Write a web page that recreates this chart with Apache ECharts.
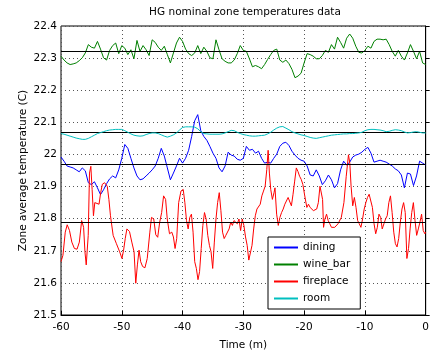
<!DOCTYPE html>
<html>
<head>
<meta charset="utf-8">
<script src="https://cdn.jsdelivr.net/npm/echarts@6/dist/echarts.min.js"></script>
<style>
  html, body { margin: 0; padding: 0; background: #fff; }
  #chart { width: 432px; height: 356px; }
</style>
</head>
<body>
<div id="chart"></div>
<script>
// Sample times (minutes) shared by dining, wine_bar and room
const sampleTimes = [
  -60, -59.5, -59, -58.5, -58, -57.5, -57, -56.5, -56, -55.5,
  -55, -54.5, -54, -53.5, -53, -52.5, -52, -51.5, -51, -50.5,
  -50, -49.5, -49, -48.5, -48, -47.5, -47, -46.5, -46, -45.5,
  -45, -44.5, -44, -43.5, -43, -42.5, -42, -41.5, -41, -40.5,
  -40, -39.5, -39, -38.5, -38, -37.5, -37, -36.5, -36, -35.5,
  -35, -34.5, -34, -33.5, -33, -32.5, -32, -31.5, -31, -30.5,
  -30, -29.5, -29, -28.5, -28, -27.5, -27, -26.5, -26, -25.5,
  -25, -24.5, -24, -23.5, -23, -22.5, -22, -21.5, -21, -20.5,
  -20, -19.5, -19, -18.5, -18, -17.5, -17, -16.5, -16, -15.5,
  -15, -14.5, -14, -13.5, -13, -12.5, -12, -11.5, -11, -10.5,
  -10, -9.5, -9, -8.5, -8, -7.5, -7, -6.5, -6, -5.5,
  -5, -4.5, -4, -3.5, -3, -2.5, -2, -1.5, -1, -0.5,
  0
];

const diningTemps = [
  21.992, 21.979, 21.964, 21.961, 21.958, 21.952, 21.946, 21.958, 21.949, 21.912,
  21.906, 21.915, 21.896, 21.875, 21.890, 21.909, 21.924, 21.933, 21.927, 21.952,
  21.988, 22.031, 22.019, 21.988, 21.958, 21.933, 21.921, 21.924, 21.933, 21.942,
  21.952, 21.964, 21.988, 22.019, 21.995, 21.958, 21.921, 21.942, 21.964, 21.988,
  21.973, 21.988, 22.013, 22.056, 22.105, 22.124, 22.074, 22.056, 22.044, 22.025,
  22.004, 21.988, 21.958, 21.946, 21.964, 22.007, 21.998, 21.995, 21.985, 21.982,
  21.988, 22.025, 22.013, 22.016, 22.004, 22.010, 21.988, 21.973, 21.976, 21.973,
  21.988, 22.001, 22.025, 22.035, 22.038, 22.028, 22.010, 21.998, 21.988, 21.982,
  21.979, 21.964, 21.936, 21.933, 21.952, 21.933, 21.906, 21.918, 21.936, 21.921,
  21.896, 21.909, 21.952, 21.979, 21.967, 21.976, 21.992, 21.998, 22.001, 22.007,
  22.016, 22.022, 22.004, 21.976, 21.979, 21.982, 21.979, 21.976, 21.970, 21.964,
  21.955, 21.949, 21.936, 21.896, 21.942, 21.939, 21.903, 21.933, 21.979, 21.973,
  21.967
];

const wineBarTemps = [
  22.306, 22.294, 22.285, 22.280, 22.282, 22.285, 22.292, 22.301, 22.316, 22.342,
  22.334, 22.331, 22.352, 22.328, 22.301, 22.294, 22.324, 22.339, 22.347, 22.314,
  22.339, 22.331, 22.311, 22.326, 22.298, 22.355, 22.321, 22.339, 22.326, 22.308,
  22.357, 22.349, 22.334, 22.324, 22.337, 22.311, 22.285, 22.316, 22.347, 22.365,
  22.352, 22.328, 22.314, 22.308, 22.316, 22.339, 22.314, 22.334, 22.321, 22.301,
  22.298, 22.357, 22.326, 22.298, 22.290, 22.285, 22.285, 22.294, 22.314, 22.339,
  22.324, 22.321, 22.298, 22.273, 22.277, 22.273, 22.267, 22.280, 22.296, 22.311,
  22.324, 22.328, 22.294, 22.287, 22.294, 22.283, 22.265, 22.239, 22.244, 22.253,
  22.285, 22.314, 22.311, 22.306, 22.298, 22.298, 22.308, 22.324, 22.318, 22.342,
  22.328, 22.365, 22.349, 22.331, 22.362, 22.375, 22.362, 22.337, 22.318, 22.316,
  22.324, 22.337, 22.331, 22.352, 22.359, 22.359, 22.357, 22.359, 22.342, 22.321,
  22.306, 22.324, 22.306, 22.294, 22.316, 22.342, 22.321, 22.298, 22.321, 22.285,
  22.280
];

const roomTemps = [
  22.065, 22.063, 22.060, 22.057, 22.054, 22.051, 22.049, 22.047, 22.047, 22.050,
  22.055, 22.060, 22.065, 22.068, 22.071, 22.074, 22.076, 22.077, 22.078, 22.078,
  22.078, 22.074, 22.069, 22.064, 22.060, 22.058, 22.057, 22.058, 22.062, 22.065,
  22.067, 22.067, 22.065, 22.061, 22.057, 22.054, 22.057, 22.061, 22.067, 22.076,
  22.084, 22.086, 22.086, 22.086, 22.085, 22.080, 22.071, 22.065, 22.064, 22.063,
  22.063, 22.063, 22.063, 22.064, 22.067, 22.071, 22.075, 22.074, 22.069, 22.065,
  22.062, 22.060, 22.058, 22.057, 22.057, 22.058, 22.059, 22.060, 22.064, 22.069,
  22.076, 22.082, 22.086, 22.087, 22.082, 22.077, 22.071, 22.067, 22.064, 22.061,
  22.059, 22.056, 22.053, 22.051, 22.050, 22.052, 22.054, 22.056, 22.058, 22.060,
  22.061, 22.062, 22.063, 22.064, 22.064, 22.065, 22.065, 22.066, 22.067, 22.069,
  22.074, 22.077, 22.078, 22.078, 22.077, 22.076, 22.074, 22.071, 22.072, 22.075,
  22.077, 22.076, 22.074, 22.070, 22.067, 22.068, 22.070, 22.071, 22.069, 22.067,
  22.067
];

// Fireplace swings quickly, so it is kept at its own (finer) sample times
const fireplaceTimes = [
  -60.00, -59.68, -59.30, -58.98, -58.60, -58.22, -57.79, -57.36, -56.98, -56.60,
  -56.28, -56.06, -55.85, -55.52, -55.31, -55.09, -54.88, -54.66, -54.44, -54.12,
  -53.74, -53.47, -53.20, -52.83, -52.39, -52.12, -51.86, -51.42, -50.88, -50.35,
  -49.97, -49.70, -49.43, -49.16, -48.73, -48.35, -47.98, -47.70, -47.43, -47.16,
  -46.89, -46.57, -46.19, -45.81, -45.38, -45.11, -44.74, -44.41, -44.09, -43.76,
  -43.44, -43.12, -42.79, -42.52, -42.15, -41.77, -41.50, -41.23, -40.96, -40.64,
  -40.26, -39.89, -39.62, -39.35, -39.08, -38.81, -38.54, -38.27, -38.00, -37.73,
  -37.46, -37.20, -36.93, -36.66, -36.39, -36.12, -35.85, -35.58, -35.31, -35.04,
  -34.77, -34.50, -34.23, -33.96, -33.69, -33.42, -33.15, -32.88, -32.61, -32.34,
  -32.07, -31.80, -31.53, -31.26, -30.99, -30.72, -30.45, -30.18, -29.91, -29.64,
  -29.37, -29.10, -28.83, -28.57, -28.30, -28.03, -27.76, -27.49, -27.22, -26.95,
  -26.68, -26.41, -26.14, -25.92, -25.71, -25.49, -25.22, -24.95, -24.79, -24.52,
  -24.25, -23.98, -23.71, -23.44, -23.17, -22.90, -22.63, -22.36, -22.09, -21.82,
  -21.55, -21.28, -21.01, -20.74, -20.47, -20.20, -19.94, -19.55, -19.28, -19.01,
  -18.74, -18.47, -18.20, -17.93, -17.66, -17.39, -17.12, -16.96, -16.80, -16.58,
  -16.31, -16.04, -15.77, -15.50, -15.23, -14.96, -14.42, -13.88, -13.45, -13.07,
  -12.70, -12.48, -12.27, -12.00, -11.73, -11.46, -11.19, -10.92, -10.65, -10.38,
  -10.11, -9.84, -9.57, -9.30, -9.03, -8.76, -8.49, -8.22, -7.95, -7.68,
  -7.41, -7.15, -6.87, -6.60, -6.33, -6.06, -5.79, -5.52, -5.25, -4.98,
  -4.71, -4.44, -4.17, -3.90, -3.63, -3.36, -3.09, -2.82, -2.56, -2.29,
  -2.02, -1.75, -1.48, -1.21, -0.94, -0.67, -0.40, -0.13, 0.00
];

const fireplaceTemps = [
  21.666, 21.686, 21.758, 21.781, 21.763, 21.727, 21.707, 21.705, 21.727, 21.794,
  21.773, 21.697, 21.656, 21.748, 21.942, 21.963, 21.891, 21.809, 21.850, 21.855,
  21.845, 21.881, 21.907, 21.912, 21.901, 21.860, 21.809, 21.748, 21.722, 21.697,
  21.676, 21.702, 21.738, 21.768, 21.760, 21.727, 21.697, 21.599, 21.656, 21.702,
  21.666, 21.651, 21.647, 21.676, 21.758, 21.804, 21.799, 21.750, 21.742, 21.789,
  21.819, 21.871, 21.860, 21.799, 21.753, 21.758, 21.743, 21.707, 21.738, 21.850,
  21.886, 21.891, 21.850, 21.794, 21.768, 21.804, 21.814, 21.758, 21.666, 21.645,
  21.610, 21.635, 21.707, 21.779, 21.819, 21.799, 21.748, 21.717, 21.697, 21.645,
  21.727, 21.799, 21.850, 21.881, 21.825, 21.758, 21.738, 21.748, 21.743, 21.768,
  21.789, 21.779, 21.794, 21.799, 21.784, 21.799, 21.763, 21.799, 21.779, 21.743,
  21.717, 21.671, 21.676, 21.717, 21.768, 21.809, 21.830, 21.835, 21.845, 21.871,
  21.886, 21.901, 21.953, 22.013, 21.942, 21.891, 21.860, 21.881, 21.896, 21.814,
  21.779, 21.804, 21.819, 21.830, 21.845, 21.840, 21.866, 21.860, 21.840, 21.876,
  21.917, 21.958, 21.947, 21.932, 21.922, 21.906, 21.876, 21.835, 21.845, 21.835,
  21.840, 21.825, 21.819, 21.830, 21.850, 21.901, 21.907, 21.860, 21.773, 21.799,
  21.814, 21.794, 21.784, 21.773, 21.770, 21.773, 21.784, 21.804, 21.850, 21.932,
  21.999, 21.973, 21.901, 21.840, 21.866, 21.835, 21.794, 21.784, 21.773, 21.799,
  21.830, 21.850, 21.866, 21.876, 21.871, 21.835, 21.784, 21.753, 21.773, 21.814,
  21.804, 21.768, 21.784, 21.799, 21.809, 21.850, 21.871, 21.819, 21.758, 21.722,
  21.712, 21.738, 21.789, 21.830, 21.850, 21.819, 21.676, 21.707, 21.768, 21.819,
  21.850, 21.794, 21.748, 21.768, 21.789, 21.814, 21.763, 21.753, 21.758
];

// Nominal (average) level of each zone, drawn as black horizontal lines
const zoneNames = ['dining', 'wine_bar', 'fireplace', 'room'];
const nominalLevels = [21.972, 22.316, 21.793, 22.067];
const zoneColors = ['#0000ff', '#008000', '#ff0000', '#00bfbf'];

const xTicks = { min: -60, max: 0, step: 10 };
const yTicks = { min: 21.5, max: 22.4, step: 0.1 };

const FONT = '"DejaVu Sans", Verdana, sans-serif';
const FONT_SIZE = 10.5;

function pairs(times, values) {
  return times.map((t, i) => [t, values[i]]);
}

const zoneData = [
  pairs(sampleTimes, diningTemps),
  pairs(sampleTimes, wineBarTemps),
  pairs(fireplaceTimes, fireplaceTemps),
  pairs(sampleTimes, roomTemps)
];

const chart = echarts.init(document.getElementById('chart'), null, { renderer: 'canvas' });

const series = zoneNames.map((name, i) => ({
  name: name,
  type: 'line',
  data: zoneData[i],
  symbol: 'none',
  showSymbol: false,
  smooth: false,
  animation: false,
  lineStyle: { color: zoneColors[i], width: 1 },
  itemStyle: { color: zoneColors[i] },
  z: 2 + i
}));

// black nominal-level lines on top of the data
series.push({
  name: 'nominal',
  type: 'line',
  data: [],
  animation: false,
  z: 10,
  markLine: {
    silent: true,
    symbol: 'none',
    animation: false,
    label: { show: false },
    lineStyle: { color: '#000', width: 1, type: 'solid' },
    data: nominalLevels.map(v => ({ yAxis: v }))
  }
});

chart.setOption({
  backgroundColor: '#fff',
  animation: false,
  textStyle: { fontFamily: FONT },
  grid: {
    left: 61, right: 0, top: 26, bottom: 37,
    show: true, borderColor: '#000', borderWidth: 1, backgroundColor: '#fff'
  },
  graphic: [{
    type: 'text',
    x: 245, y: 12,
    style: {
      text: 'HG nominal zone temperatures data',
      font: FONT_SIZE + 'px ' + FONT,
      fill: '#000',
      textAlign: 'center',
      textVerticalAlign: 'middle'
    }
  }],
  legend: {
    data: zoneNames,
    orient: 'vertical',
    left: 268, top: 237,
    backgroundColor: '#fff',
    borderColor: '#000',
    borderWidth: 1,
    borderRadius: 0,
    padding: [4, 10, 4, 6],
    icon: 'rect',
    itemWidth: 24,
    itemHeight: 2,
    itemGap: 4,
    textStyle: { fontSize: FONT_SIZE, color: '#000', fontFamily: FONT, lineHeight: 13 },
    z: 20
  },
  xAxis: {
    type: 'value',
    min: xTicks.min, max: xTicks.max, interval: xTicks.step,
    name: 'Time (m)',
    nameLocation: 'middle',
    nameGap: 25,
    nameMoveOverlap: false,
    nameTextStyle: { fontSize: FONT_SIZE, color: '#000', fontFamily: FONT },
    axisLine: { show: true, lineStyle: { color: '#000', width: 1 } },
    axisTick: { show: true, inside: true, length: 4, lineStyle: { color: '#000' } },
    axisLabel: { fontSize: FONT_SIZE, color: '#000', margin: 7, fontFamily: FONT },
    splitLine: { show: true, lineStyle: { color: '#555', type: [1, 3], width: 1 } }
  },
  yAxis: {
    type: 'value',
    min: yTicks.min, max: yTicks.max, interval: yTicks.step,
    name: 'Zone average temperature (C)',
    nameLocation: 'middle',
    nameGap: 32,
    nameMoveOverlap: false,
    nameTextStyle: { fontSize: FONT_SIZE, color: '#000', fontFamily: FONT },
    axisLine: { show: true, lineStyle: { color: '#000', width: 1 } },
    axisTick: { show: true, inside: true, length: 4, lineStyle: { color: '#000' } },
    axisLabel: {
      fontSize: FONT_SIZE, color: '#000', margin: 4, fontFamily: FONT,
      formatter: v => String(Math.round(v * 10) / 10)
    },
    splitLine: { show: true, lineStyle: { color: '#555', type: [1, 3], width: 1 } }
  },
  series: series
});
</script>
</body>
</html>
